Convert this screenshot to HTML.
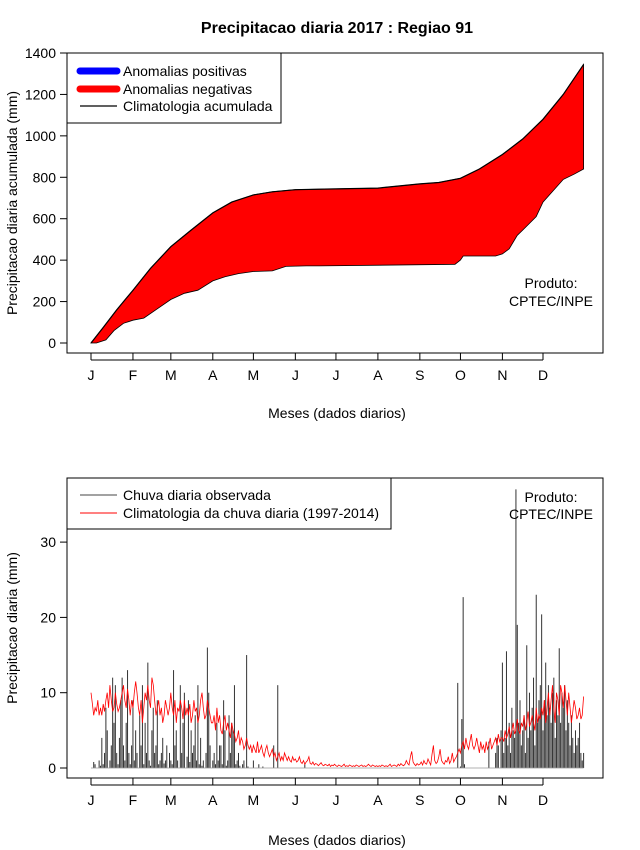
<!DOCTYPE html>
<html><head><meta charset="utf-8"><style>
body{margin:0;background:#fff}
svg{display:block;font-family:"Liberation Sans",Arial,sans-serif}
</style></head><body>
<svg id="c" width="640" height="850" viewBox="0 0 640 850" xmlns="http://www.w3.org/2000/svg">
<text x="337" y="33" text-anchor="middle" font-size="16" font-weight="bold">Precipitacao diaria 2017 : Regiao 91</text>
<rect x="67" y="53" width="536" height="300" fill="none" stroke="#000"/>
<rect x="67" y="478" width="536" height="300" fill="none" stroke="#000"/>
<g id="gtop"></g>
<g id="gbot"></g>
<text x="337" y="418" text-anchor="middle" font-size="14">Meses (dados diarios)</text>
<text x="337" y="845" text-anchor="middle" font-size="14">Meses (dados diarios)</text>
<text transform="translate(17,203) rotate(-90)" text-anchor="middle" font-size="14">Precipitacao diaria acumulada (mm)</text>
<text transform="translate(17,628) rotate(-90)" text-anchor="middle" font-size="14">Precipitacao diaria (mm)</text>
<g font-size="14" text-anchor="middle">
<text x="551" y="288">Produto:</text><text x="551" y="306">CPTEC/INPE</text></g>
<g font-size="14" text-anchor="middle">
<text x="551" y="502">Produto:</text><text x="551" y="519">CPTEC/INPE</text></g>
<g>
<rect x="67" y="53" width="214" height="70" fill="#fff" stroke="#000"/>
<line x1="80" y1="71" x2="117" y2="71" stroke="#0000ff" stroke-width="7" stroke-linecap="round"/>
<text x="123" y="76" font-size="14">Anomalias positivas</text>
<line x1="80" y1="89" x2="117" y2="89" stroke="#ff0000" stroke-width="7" stroke-linecap="round"/>
<text x="123" y="94" font-size="14">Anomalias negativas</text>
<line x1="80" y1="106" x2="117" y2="106" stroke="#000" stroke-width="1.2"/>
<text x="123" y="111" font-size="14">Climatologia acumulada</text>
</g>
<g>
<rect x="67" y="478" width="324" height="51" fill="#fff" stroke="#000"/>
<line x1="80" y1="495" x2="117" y2="495" stroke="#444" stroke-width="1"/>
<text x="123" y="500" font-size="14">Chuva diaria observada</text>
<line x1="80" y1="513" x2="117" y2="513" stroke="#ff0000" stroke-width="1"/>
<text x="123" y="518" font-size="14">Climatologia da chuva diaria (1997-2014)</text>
</g>
</svg>
<script>
const monthLabels=["J","F","M","A","M","J","J","A","S","O","N","D"];
const monthStartDays=[1,32,60,91,121,152,182,213,244,274,305,335];
const topYTicks=[0,200,400,600,800,1000,1200,1400];
const botYTicks=[0,10,20,30];
const climDays=[1,10,20,32,45,60,75,91,105,121,135,152,182,213,244,258,274,288,305,320,335,350,365];
const climCum=[0,75,160,255,360,465,545,628,680,715,730,740,744,748,768,775,795,840,910,985,1080,1200,1345];
const obsDays=[1,5,12,18,25,32,40,50,60,70,80,91,100,110,121,135,145,160,170,270,274,276,300,305,310,316,320,330,335,350,358,365];
const obsCum=[0,0,15,60,95,110,120,165,210,240,255,300,320,335,345,348,370,372,372,380,400,420,420,430,455,520,545,610,680,790,815,840];
const rainObs=[
0,0,0.8,0.5,0,0,1,0.3,4,0.5,2,8,5,0,1,3,12,6,11,2,0.5,4,9,12,3,1,6,13,2,0.5,3,
9,1,5,2,0,7,3,11,0.5,6,2,14,1,0.3,5,8,2,3,9,0.5,1,2,4,0.6,1,3,0,2,
1,0.5,13,3,5,1,0,11,2,6,10,0,1.5,9,0.8,5,2,3,7,1,11,0.5,4,0.3,1,0,2,16,10,3,0,
1,2,0.5,6,1,3,3,0.5,9,5,0.3,1,7,2,6,5,11,0.5,1,2,0.3,0,0.5,1,0,15,0.2,0,0,0,
1,0,0,0,0.5,0,0,0.2,0,0,0,0,0,0,0,3,0,0,11,0,0,0,0,0,0,0,0,0,0,0,0,
0,0,0,0,0,0,0,0.5,0,0,0,0,0,0,0,0,0,0,0,0,0,0,0,0,0,0,0,0,0,0,
0,0,0,0,0,0,0,0,0,0,0,0,0,0,0,0,0,0,0,0,0,0,0,0,0,0,0,0,0,0,0,
0,0,0,0,0,0,0,0,0,0,0,0,0,0,0,0,0,0,0,0,0,0,0,0,0,0,0,0,0,0,0,
0,0,0,0,0,0,0,0,0,0,0,0,0,0,0,0,0,0,0,0,0,0,0,0,0,0,0,0,11.3,0,
0.2,6.5,22.7,0.5,0,0,0,0,0,0,0,0,0,0,0,0,0,0,0,0,0,3.5,0,0,0,0,2,4,3,0,5,
14,2,4,15.5,3,6,2,8,5,4,37,19,6,9,3,5,7,2,16.3,4,10,5,8,12,3,23,6,9,11,20.4,
5,9,14,7,11,8,6,10,12,4,9,7,15.9,6,10,8,11,5,9,6,3,7,4,2,5,3,4,6,2,1,2];
const rainClim=[
10,8.5,7,8,7.5,9,7,8,7,8.5,7.5,9,10,8,11,9,7.5,8,10,8.5,7.5,8,9,10,11,9,8,10.5,9,7,9,
8,10,11.5,10,8,7,9,6,8,10,9,11,9,8,12,11,9,7,8,9,7,8,6,7,9,8,7,8,
10,8,7,9,6,8,7.5,9,8,6.5,9,7,8,7,8.5,6,7,9,7.5,8,6,7,9,10,8,6.5,7,9,8,7,6,
6,7,5,8,6,7,5,4.5,6,7,5,6,5,4,6,5,4.5,3.5,4,5,3,4,3.5,2.5,3,4,3,2.5,3,2,
3,2.5,2,3.5,2,2.5,3,2,1.5,2.5,3,2,1.5,2,2.5,1.5,2,1,1.5,2,1,1.5,1,2,1.5,1,1.5,1,0.8,1.5,1,
1.2,0.8,1,1.5,0.8,0.6,1,0.5,0.8,1,1.5,0.6,0.5,0.8,0.4,0.6,0.5,0.3,0.5,0.7,0.4,0.3,0.5,0.4,0.3,0.5,0.2,0.4,0.3,0.5,
0.3,0.2,0.4,0.3,0.2,0.3,0.5,0.2,0.3,0.2,0.4,0.3,0.2,0.3,0.2,0.4,0.3,0.2,0.3,0.4,0.2,0.3,0.2,0.3,0.5,0.3,0.2,0.4,0.3,0.2,0.3,
0.2,0.3,0.2,0.4,0.3,0.2,0.3,0.2,0.3,0.5,0.2,0.3,0.4,0.3,0.2,0.5,0.3,0.6,0.4,0.3,0.5,1,0.6,0.4,1.5,2.2,0.8,0.5,0.3,0.6,0.4,
0.5,0.8,0.4,1,0.6,0.5,1.2,0.8,0.4,1.8,3,1,0.6,0.8,1.5,2.5,1,0.7,0.5,1,0.8,1.5,0.6,1,2,0.8,1.2,1.5,2,2.5,
2,3,3.5,2.5,4,3,2.5,3.5,4.5,3,2.5,3,4,3,2,3.5,2.5,3,2,3.5,2.5,3,4,2.5,3,3.5,4,3,4.5,3.5,4,
4,3.5,5,4,4.5,5.5,4,5,6,4.5,5,6.5,5,4.5,6,5.5,7,5,6,7.5,5.5,6,7,6,5,8,6,7,6.5,8,
7,9,6,8,10,7,9,11,8,6,10,9,7,11,10,8,11,9,7,10,8,6,7.5,9,8,6.5,7,8,6.5,7,9.5];

const NS='http://www.w3.org/2000/svg';
function mk(tag,attrs,parent){const e=document.createElementNS(NS,tag);for(const k in attrs)e.setAttribute(k,attrs[k]);parent.appendChild(e);return e;}
const xDay=d=>91+(d-1)*(452/334);
const yTop=v=>343-v*(290/1400);
const yBot=v=>768-v*7.53;
const gTop=document.getElementById('gtop'),gBot=document.getElementById('gbot');

let pts=climDays.map((d,i)=>xDay(d).toFixed(1)+','+yTop(climCum[i]).toFixed(1));
let ptsO=obsDays.map((d,i)=>xDay(d).toFixed(1)+','+yTop(obsCum[i]).toFixed(1)).reverse();
const area=mk('polygon',{points:pts.concat(ptsO).join(' '),fill:'#ff0000',stroke:'#000','stroke-width':'0.8'},gTop);


const cl=mk('polyline',{points:pts.join(' '),fill:'none',stroke:'#000','stroke-width':'1.2'},gTop);



function axes(g,yT,yf,ybase){
  monthStartDays.forEach((d,i)=>{
    const x=xDay(d);
    const t=mk('line',{x1:x,x2:x,y1:ybase,y2:ybase+7,stroke:'#000'},g);
    
    
    const l=mk('text',{x:x,y:ybase+27,'text-anchor':'middle','font-size':'14'},g);l.textContent=monthLabels[i];
    
    
  });
  mk('line',{x1:xDay(1),x2:xDay(335),y1:ybase+7,y2:ybase+7,stroke:'#000'},g);
  yT.forEach(v=>{
    const y=yf(v);
    const t=mk('line',{x1:60,x2:67,y1:y,y2:y,stroke:'#000'},g);
    
    
    const l=mk('text',{x:56,y:y+5,'text-anchor':'end','font-size':'14'},g);l.textContent=v;
    
    
  });
}
axes(gTop,topYTicks,yTop,353);
axes(gBot,botYTicks,yBot,778);

rainObs.forEach((v,i)=>{
  if(v<=0)return;
  const x=xDay(i+1);
  const b=mk('line',{x1:x,x2:x,y1:yBot(0),y2:yBot(v),stroke:'#333','stroke-width':'1'},gBot);
  
  
});
mk('line',{x1:xDay(1),x2:xDay(365),y1:yBot(0),y2:yBot(0),stroke:'#999','stroke-width':'0.8'},gBot);
const cp=mk('polyline',{points:rainClim.map((v,i)=>xDay(i+1).toFixed(1)+','+yBot(v).toFixed(1)).join(' '),fill:'none',stroke:'#ff0000','stroke-width':'0.8'},gBot);


</script>
</body></html>
